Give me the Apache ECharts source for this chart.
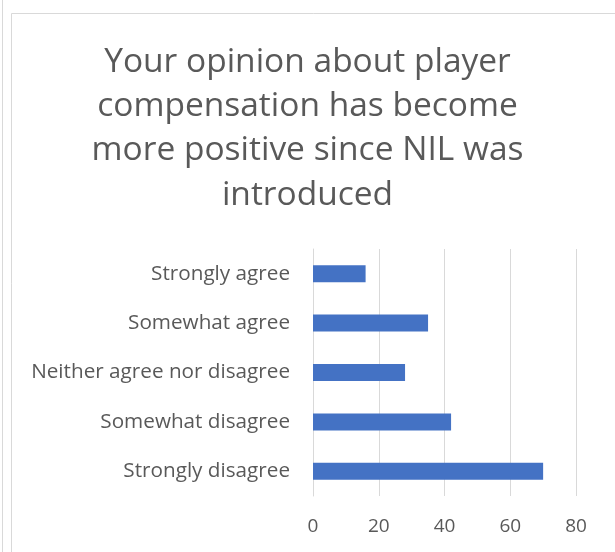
<!DOCTYPE html>
<html>
<head>
<meta charset="utf-8">
<script src="https://cdn.jsdelivr.net/npm/echarts@6/dist/echarts.min.js"></script>
<style>
  html, body { margin: 0; padding: 0; background: #fff; }
  #chart { width: 615px; height: 552px; }
</style>
</head>
<body>
<div id="chart"></div>
<script>
// Survey responses, listed bottom-to-top as drawn on the category axis
const categories = [
  'Strongly disagree',
  'Somewhat disagree',
  'Neither agree nor disagree',
  'Somewhat agree',
  'Strongly agree'
];
const responses = [70, 42, 28, 35, 16];
const xTicks = { min: 0, max: 80, interval: 20 };
const titleText = 'Your opinion about player\ncompensation has become\nmore positive since NIL was\nintroduced';

const chart = echarts.init(document.getElementById('chart'), null, { renderer: 'canvas' });
const font = '"Open Sans", "Noto Sans", sans-serif';

chart.setOption({
  animation: false,
  backgroundColor: '#ffffff',
  title: {
    text: titleText,
    left: 'center',
    top: 35,
    textStyle: {
      fontFamily: font,
      fontSize: 33.5,
      fontWeight: 'normal',
      color: '#595959',
      lineHeight: 44.3
    }
  },
  graphic: [
    { type: 'line', shape: { x1: 2.5, y1: 0, x2: 2.5, y2: 552 },
      style: { stroke: '#d9d9d9', lineWidth: 1 } },
    { type: 'rect', shape: { x: 11.5, y: 13.5, width: 700, height: 700 },
      style: { fill: 'none', stroke: '#d9d9d9', lineWidth: 1 } }
  ],
  grid: { left: 313, right: 39, top: 249, height: 247, containLabel: false },
  xAxis: {
    type: 'value',
    min: xTicks.min,
    max: xTicks.max,
    interval: xTicks.interval,
    axisLine: { show: false },
    axisTick: { show: false },
    splitLine: { show: true, lineStyle: { color: '#d9d9d9', width: 1 } },
    axisLabel: { fontFamily: font, fontSize: 19, color: '#595959', margin: 21 }
  },
  yAxis: {
    type: 'category',
    data: categories,
    axisLine: { show: true, lineStyle: { color: '#d9d9d9', width: 1 } },
    axisTick: { show: false },
    axisLabel: { fontFamily: font, fontSize: 20.7, color: '#595959', margin: 23 }
  },
  series: [{
    type: 'bar',
    data: responses,
    barWidth: 17,
    itemStyle: { color: '#4472C4' }
  }]
});
</script>
</body>
</html>
